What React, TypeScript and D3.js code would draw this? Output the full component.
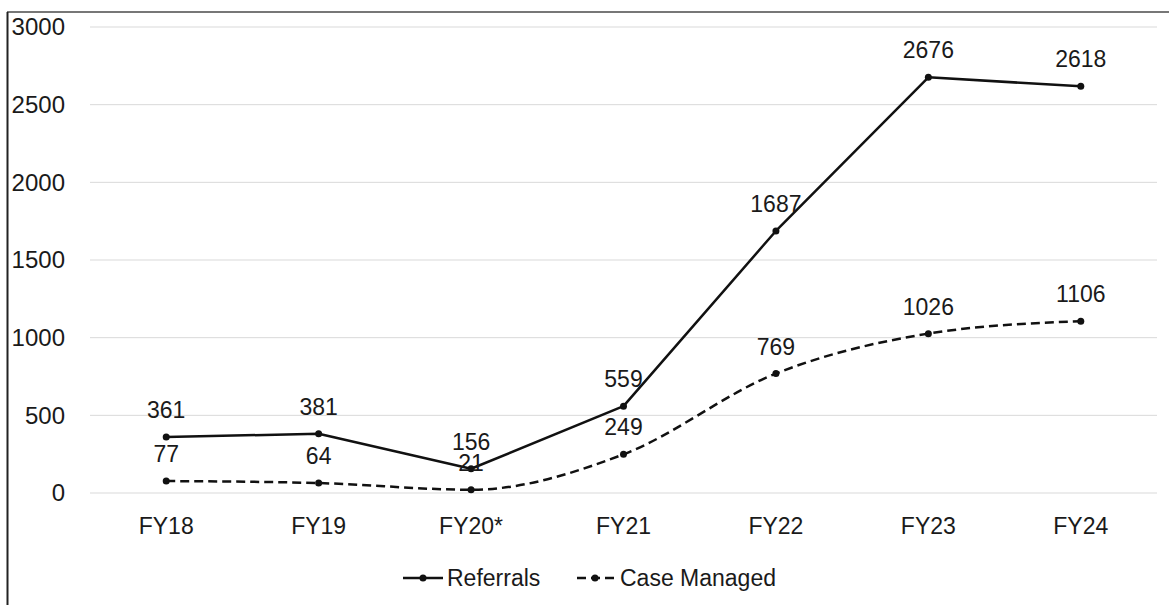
import React from "react";
import * as d3 from "d3";

const categories = ["FY18", "FY19", "FY20*", "FY21", "FY22", "FY23", "FY24"];
const referrals = [361, 381, 156, 559, 1687, 2676, 2618];
const caseManaged = [77, 64, 21, 249, 769, 1026, 1106];
const yTicks = [0, 500, 1000, 1500, 2000, 2500, 3000];

const W = 1169;
const H = 605;
const FONT = "'Liberation Sans', Arial, sans-serif";

export default function App() {
  const x = d3.scalePoint<string>().domain(categories).range([90, 1157]).padding(0.5);
  const y = d3.scaleLinear().domain([0, 3000]).range([493, 27]);

  const lineStraight = d3
    .line<number>()
    .x((_, i) => x(categories[i]) as number)
    .y((d) => y(d));
  const lineSmooth = d3
    .line<number>()
    .x((_, i) => x(categories[i]) as number)
    .y((d) => y(d))
    .curve(d3.curveMonotoneX);

  const textColor = "#1a1a1a";

  return (
    <svg
      width={W}
      height={H}
      style={{ position: "absolute", left: 0, top: 0, background: "#fff" }}
      fontFamily={FONT}
    >
      <rect x={0} y={0} width={W} height={H} fill="#fff" />
      {/* border */}
      <line x1={7} x2={W} y1={12} y2={12} stroke="#4a4a4a" strokeWidth={1.5} />
      <line x1={7.5} x2={7.5} y1={12} y2={H} stroke="#222" strokeWidth={2} />

      {/* gridlines */}
      {yTicks.map((t) => (
        <line key={"g" + t} x1={90} x2={1157} y1={y(t)} y2={y(t)} stroke="#d9d9d9" strokeWidth={1} />
      ))}
      {/* y labels */}
      {yTicks.map((t) => (
        <text key={"yl" + t} x={65} y={y(t)} dy="0.35em" textAnchor="end" fontSize={24} fill={textColor}>
          {t}
        </text>
      ))}
      {/* x labels */}
      {categories.map((c) => (
        <text key={"xl" + c} x={x(c) as number} y={526} dy="0.35em" textAnchor="middle" fontSize={23} fill={textColor}>
          {c}
        </text>
      ))}

      {/* lines */}
      <path d={lineStraight(referrals) || ""} fill="none" stroke="#111" strokeWidth={2.5} strokeLinejoin="round" />
      <path d={lineSmooth(caseManaged) || ""} fill="none" stroke="#111" strokeWidth={2.5} strokeDasharray="9,5" />

      {/* markers */}
      {referrals.map((v, i) => (
        <circle key={"rm" + i} cx={x(categories[i]) as number} cy={y(v)} r={3.5} fill="#111" />
      ))}
      {caseManaged.map((v, i) => (
        <circle key={"cm" + i} cx={x(categories[i]) as number} cy={y(v)} r={3.5} fill="#111" />
      ))}

      {/* data labels */}
      {referrals.map((v, i) => (
        <text key={"rl" + i} x={x(categories[i]) as number} y={y(v) - 27} dy="0.35em" textAnchor="middle" fontSize={23} fill={textColor}>
          {v}
        </text>
      ))}
      {caseManaged.map((v, i) => (
        <text key={"cl" + i} x={x(categories[i]) as number} y={y(v) - 27} dy="0.35em" textAnchor="middle" fontSize={23} fill={textColor}>
          {v}
        </text>
      ))}

      {/* legend */}
      <g>
        <line x1={403} x2={443} y1={578} y2={578} stroke="#111" strokeWidth={2.5} />
        <circle cx={423} cy={578} r={3.5} fill="#111" />
        <text x={447} y={578} dy="0.35em" fontSize={23} fill={textColor}>
          Referrals
        </text>
        <line x1={577} x2={614} y1={578} y2={578} stroke="#111" strokeWidth={2.5} strokeDasharray="9,5" />
        <circle cx={595} cy={578} r={3.5} fill="#111" />
        <text x={620} y={578} dy="0.35em" fontSize={23} fill={textColor}>
          Case Managed
        </text>
      </g>
    </svg>
  );
}
